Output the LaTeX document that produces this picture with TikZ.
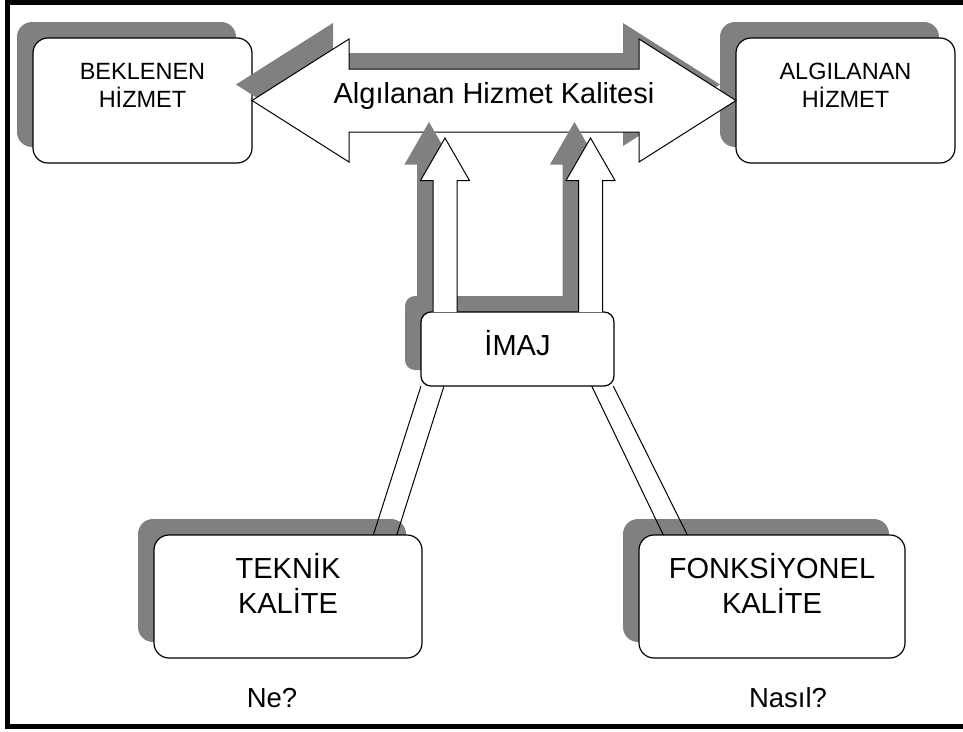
\documentclass[tikz,border=0pt]{standalone}
\usepackage{fontspec}
\setmainfont{Liberation Sans}
\usetikzlibrary{calc,shadows}
\definecolor{shadowgray}{RGB}{128,128,128}
% two centred lines whose baseline is the baseline of the first line
\newcommand\twolines[2]{\begin{tabular}[t]{@{}c@{}}#1\\#2\end{tabular}}

\begin{document}
\begin{tikzpicture}[x=1pt,y=-1pt,
  card/.style={draw=black, line width=1.2pt, fill=white, rounded corners=15pt,
    inner sep=0pt, outer sep=0pt,
    general shadow={fill=shadowgray, shadow xshift=-16pt, shadow yshift=16pt}},
  smallcard/.style={card, rounded corners=10pt},
  toplabel/.style={anchor=base, inner sep=0pt, font=\fontsize{23.5}{27}\selectfont},
  lowlabel/.style={anchor=base, inner sep=0pt, font=\fontsize{29}{35}\selectfont},
  asklabel/.style={anchor=base, inner sep=0pt, font=\fontsize{27.5}{33}\selectfont},
  outline/.style={draw=black, line width=1pt, fill=white, line join=miter},
  shadowshape/.style={fill=shadowgray, draw=none,
    transform canvas={xshift=-16pt, yshift=16pt}},
  band/.style={draw=black, line width=1pt},
]
\useasboundingbox (0,0) rectangle (963,731);

% frame (open on the right)
\draw[line width=5pt, line join=miter] (963,2.5) -- (7.5,2.5) -- (7.5,726) -- (963,726);

% boxes
\node[card, minimum width=219pt, minimum height=125pt] (bek) at (142.5,100.5) {};
\node[card, minimum width=219pt, minimum height=125pt] (alg) at (845.5,100.5) {};
\node[card, minimum width=268pt, minimum height=123pt] (tek) at (288,596.5) {};
\node[card, minimum width=266pt, minimum height=123pt] (fonk) at (772,596.5) {};
\node[smallcard, minimum width=193pt, minimum height=74pt] (imaj) at (517.5,349) {};

% box texts
\node[toplabel] (bektext) at ($(bek.north)+(0,41.5)$) {\twolines{BEKLENEN}{HİZMET}};
\node[toplabel] (algtext) at ($(alg.north)+(0,41.5)$) {\twolines{ALGILANAN}{HİZMET}};
\node[lowlabel] (tektext) at ($(tek.north)+(0,43)$) {\twolines{TEKNİK}{KALİTE}};
\node[lowlabel] (fonktext) at ($(fonk.north)+(0,43)$) {\twolines{FONKSİYONEL}{KALİTE}};
\node[lowlabel] (imajtext) at ($(imaj.south)+(0,-31)$) {İMAJ};
\node[asklabel] (ne) at (272,707) {Ne?};
\node[asklabel] (nasil) at (788,707) {Nasıl?};

% double arrow between the two upper boxes
\path[shadowshape] let \p1=(bek.east), \p2=(alg.west) in
  (\x1,\y1) -- (\x1+97pt,\y1+61.5pt) -- (\x1+97pt,\y1+31.5pt) -- (\x2-97pt,\y1+31.5pt)
  -- (\x2-97pt,\y1+61.5pt) -- (\x2,\y1) -- (\x2-97pt,\y1-61.5pt) -- (\x2-97pt,\y1-31.5pt)
  -- (\x1+97pt,\y1-31.5pt) -- (\x1+97pt,\y1-61.5pt) -- cycle;
\path[outline] let \p1=(bek.east), \p2=(alg.west) in
  (\x1,\y1) -- (\x1+97pt,\y1+61.5pt) -- (\x1+97pt,\y1+31.5pt) -- (\x2-97pt,\y1+31.5pt)
  -- (\x2-97pt,\y1+61.5pt) -- (\x2,\y1) -- (\x2-97pt,\y1-61.5pt) -- (\x2-97pt,\y1-31.5pt)
  -- (\x1+97pt,\y1-31.5pt) -- (\x1+97pt,\y1-61.5pt) -- cycle;
\node[anchor=base, inner sep=0pt, font=\fontsize{29}{35}\selectfont] (quality)
  at ($(bek.east)!0.5!(alg.west)+(0,2.5)$) {Algılanan Hizmet Kalitesi};

% upward arrows from the image box
\coordinate (b1) at ($(imaj.north)+(-72.5,0)$);
\coordinate (t1) at (445,138);
\coordinate (b2) at ($(imaj.north)+(73,0)$);
\coordinate (t2) at (590.5,138);
\foreach \b/\t in {b1/t1, b2/t2}{
  \path[shadowshape] let \p1=(\b), \p2=(\t) in
    (\x1-12pt,\y1) -- (\x1-12pt,\y2-42.5pt) -- (\x1-24.5pt,\y2-42.5pt) -- (\x2,\y2)
    -- (\x1+24.5pt,\y2-42.5pt) -- (\x1+12pt,\y2-42.5pt) -- (\x1+12pt,\y1) -- cycle;
}
\foreach \b/\t in {b1/t1, b2/t2}{
  \path[outline] let \p1=(\b), \p2=(\t) in
    (\x1-12pt,\y1) -- (\x1-12pt,\y2-42.5pt) -- (\x1-24.5pt,\y2-42.5pt) -- (\x2,\y2)
    -- (\x1+24.5pt,\y2-42.5pt) -- (\x1+12pt,\y2-42.5pt) -- (\x1+12pt,\y1);
}

% double-line links down to the lower boxes
\draw[band] (imaj.south west) -- ($(tek.north)+(85.3,0)$);
\draw[band] ($(imaj.south west)+(23,0)$) -- ($(tek.north)+(108.7,0)$);
\draw[band] ($(imaj.south east)+(-22.3,0)$) -- ($(fonk.north west)+(24.3,0)$);
\draw[band] ($(imaj.south east)+(-0.7,0)$) -- ($(fonk.north west)+(48.3,0)$);
\end{tikzpicture}
\end{document}
